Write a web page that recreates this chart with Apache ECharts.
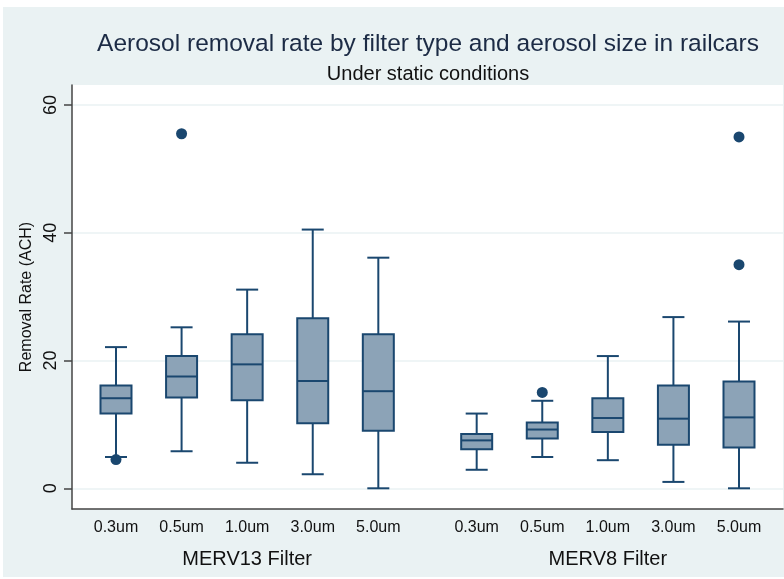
<!DOCTYPE html>
<html>
<head>
<meta charset="utf-8">
<script src="https://cdn.jsdelivr.net/npm/echarts@6/dist/echarts.min.js"></script>
<style>
html, body { margin: 0; padding: 0; background: #ffffff; }
.frame { position: absolute; left: 3px; top: 7px; width: 781px; height: 570px; background: #eaf2f3; }
#chart { position: absolute; left: 0; top: 0; width: 784px; height: 579px; }
</style>
</head>
<body>
<div class="frame"></div>
<div id="chart"></div>
<script>
const sizes = ["0.3um", "0.5um", "1.0um", "3.0um", "5.0um"];
const filters = ["MERV13 Filter", "MERV8 Filter"];
// one value per box: the five MERV13 sizes, then the five MERV8 sizes
const whiskerLow = [4.9, 5.8, 4.0, 2.2, 0.0, 2.9, 4.9, 4.4, 1.0, 0.0];
const q1 = [11.7, 14.2, 13.8, 10.2, 9.0, 6.1, 7.8, 8.8, 6.8, 6.4];
const median = [14.1, 17.5, 19.4, 16.8, 15.2, 7.5, 9.2, 11.0, 10.9, 11.1];
const q3 = [16.1, 20.7, 24.1, 26.6, 24.1, 8.5, 10.3, 14.1, 16.1, 16.7];
const whiskerHigh = [22.1, 25.2, 31.1, 40.5, 36.1, 11.7, 13.7, 20.7, 26.8, 26.1];
// outside values: [box index, value]
const outliers = [[0, 4.5], [1, 55.5], [6, 15.0], [9, 55.0], [9, 35.0]];
const yTicks = [0, 20, 40, 60];

const navy = "#1a476f";
const boxFill = "#8ca3b7";
const font = "'Liberation Sans', Arial, sans-serif";
const groupGap = 0.5;

function boxX(i) {
  return i + (i >= sizes.length ? groupGap : 0);
}
const labelX = [];
for (let i = 0; i < sizes.length * filters.length; i++) labelX.push(boxX(i));
const groupX = filters.map((f, g) => g * (sizes.length + groupGap) + (sizes.length - 1) / 2);

const boxData = whiskerLow.map((v, i) => [boxX(i), v, q1[i], median[i], q3[i], whiskerHigh[i]]);
const outlierData = outliers.map(o => [boxX(o[0]), o[1]]);

function renderBox(params, api) {
  const x = api.value(0);
  const lo = api.coord([x, api.value(1)]);
  const b1 = api.coord([x, api.value(2)]);
  const md = api.coord([x, api.value(3)]);
  const b3 = api.coord([x, api.value(4)]);
  const hi = api.coord([x, api.value(5)]);
  const half = 15.5, cap = 11;
  const ls = { stroke: navy, lineWidth: 2 };
  return {
    type: "group",
    children: [
      { type: "line", shape: { x1: lo[0], y1: lo[1], x2: lo[0], y2: b1[1] }, style: ls },
      { type: "line", shape: { x1: hi[0], y1: hi[1], x2: hi[0], y2: b3[1] }, style: ls },
      { type: "line", shape: { x1: lo[0] - cap, y1: lo[1], x2: lo[0] + cap, y2: lo[1] }, style: ls },
      { type: "line", shape: { x1: hi[0] - cap, y1: hi[1], x2: hi[0] + cap, y2: hi[1] }, style: ls },
      { type: "rect", shape: { x: b3[0] - half, y: b3[1], width: half * 2, height: b1[1] - b3[1] },
        style: { fill: boxFill, stroke: navy, lineWidth: 2 } },
      { type: "line", shape: { x1: md[0] - half, y1: md[1], x2: md[0] + half, y2: md[1] }, style: ls }
    ]
  };
}

const chart = echarts.init(document.getElementById("chart"));
chart.setOption({
  backgroundColor: "transparent",
  animation: false,
  title: [
    {
      text: "Aerosol removal rate by filter type and aerosol size in railcars",
      left: 423, top: 27, textAlign: "center",
      textStyle: { fontFamily: font, fontSize: 24.5, fontWeight: "normal", color: "#1c2b45" }
    },
    {
      text: "Under static conditions",
      left: 423, top: 59, textAlign: "center",
      textStyle: { fontFamily: font, fontSize: 20, fontWeight: "normal", color: "#111" }
    }
  ],
  grid: {
    left: 72, right: 1, top: 85, bottom: 70,
    show: true, backgroundColor: "#ffffff", borderWidth: 0
  },
  xAxis: [
    {
      type: "value", min: -0.671, max: 10.171,
      axisLine: { show: true, onZero: false, lineStyle: { color: "#444", width: 1.5 } },
      axisTick: { show: false },
      splitLine: { show: false },
      axisLabel: {
        customValues: labelX, margin: 11,
        fontFamily: font, fontSize: 16, color: "#111",
        formatter: v => sizes[Math.round(v >= sizes.length ? v - sizes.length - groupGap : v)]
      }
    },
    {
      type: "value", min: -0.671, max: 10.171, position: "bottom",
      axisLine: { show: false }, axisTick: { show: false }, splitLine: { show: false },
      axisLabel: {
        customValues: groupX, margin: 40,
        fontFamily: font, fontSize: 20, color: "#111",
        formatter: v => filters[v > sizes.length ? 1 : 0]
      }
    }
  ],
  yAxis: {
    type: "value", min: -3.24, max: 63.13,
    name: "Removal Rate (ACH)", nameLocation: "middle", nameGap: 26, nameRotate: 90,
    nameTextStyle: { fontFamily: font, fontSize: 16, color: "#111" },
    axisLine: { show: true, onZero: false, lineStyle: { color: "#444", width: 1.5 } },
    axisTick: { show: true, customValues: yTicks, length: 8, lineStyle: { color: "#444", width: 1.5 } },
    axisLabel: { customValues: yTicks, rotate: 90, margin: 12, fontFamily: font, fontSize: 18, color: "#111" },
    splitLine: { show: true, lineStyle: { color: "#eaf2f3", width: 1.5 } }
  },
  series: [
    {
      type: "custom", xAxisIndex: 0, yAxisIndex: 0,
      renderItem: renderBox,
      encode: { x: 0, y: [1, 2, 3, 4, 5] },
      data: boxData
    },
    {
      type: "scatter", xAxisIndex: 0, yAxisIndex: 0,
      symbolSize: 11,
      itemStyle: { color: navy, opacity: 1 },
      data: outlierData
    }
  ]
});
</script>
</body>
</html>
